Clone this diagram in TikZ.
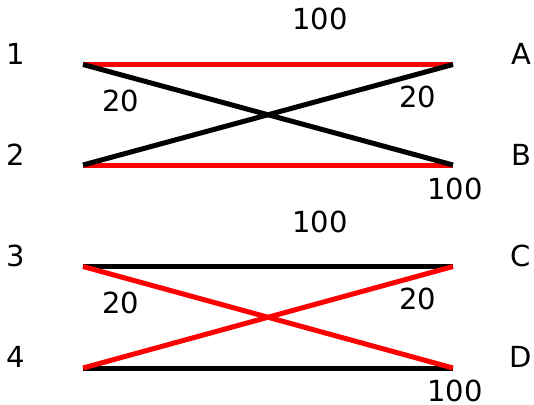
\documentclass[tikz,border=0pt]{standalone}
\usepackage{fontspec}
\setmainfont{DejaVu Sans}
\usetikzlibrary{positioning}
\tikzset{
  port/.style={
    inner sep=0pt,
    font=\fontsize{29}{34}\selectfont
  },
  cost/.style={
    inner sep=0pt,
    font=\fontsize{29}{34}\selectfont
  },
  redlink/.style={
    draw=red,
    line width=5pt
  },
  blacklink/.style={
    draw=black,
    line width=5pt
  }
}

\begin{document}
\begin{tikzpicture}[x=1pt, y=-1pt]
\useasboundingbox (0,0) rectangle (534,404);

% upper pair
\coordinate (l1) at (83,64.5);
\coordinate (l2) at (83,165);
\coordinate (rA) at (453,64.5);
\coordinate (rB) at (453,165);
\node[port] (one) at (15.5,53.5) {1};
\node[port] (two) at (15.5,155) {2};
\node[port] (a) at (521,53.5) {A};
\node[port] (b) at (521,155) {B};
\node[cost] (c1A) at (320,18.5) {100};
\node[cost] (c1B) at (121,100.5) {20};
\node[cost] (c2A) at (417.5,97) {20};
\node[cost] (c2B) at (455,188.5) {100};

\draw[redlink] (l1) -- (rA);
\draw[redlink] (l2) -- (rB);
\draw[blacklink] (l1) -- (rB);
\draw[blacklink] (l2) -- (rA);

% lower pair
\coordinate (l3) at (83,266.5);
\coordinate (l4) at (83,368);
\coordinate (rC) at (453,266.5);
\coordinate (rD) at (453,368);
\node[port] (three) at (15.5,256) {3};
\node[port] (four) at (15.5,357) {4};
\node[port] (c) at (521,256) {C};
\node[port] (d) at (521,357) {D};
\node[cost] (c3C) at (320,221.5) {100};
\node[cost] (c3D) at (121,303) {20};
\node[cost] (c4C) at (417.5,299) {20};
\node[cost] (c4D) at (455,390.5) {100};

\draw[blacklink] (l3) -- (rC);
\draw[blacklink] (l4) -- (rD);
\draw[redlink] (l3) -- (rD);
\draw[redlink] (l4) -- (rC);
\end{tikzpicture}
\end{document}
